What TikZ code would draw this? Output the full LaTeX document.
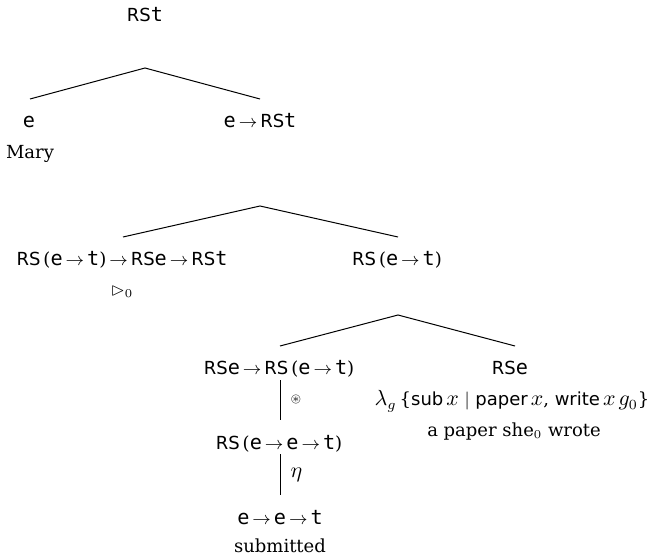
\documentclass[tikz,border=0pt]{standalone}
\usepackage{fontspec}
\usepackage{amssymb}
\setmainfont{DejaVu Serif}
\newfontfamily\tyf[Scale=1.12]{DejaVu Sans Mono}
\newfontfamily\sff{DejaVu Sans}
\newcommand\ty[1]{{\tyf #1}}
\newcommand\sfw[1]{{\sff #1}}
\newcommand\rs{{\sff RS}}
\newcommand\ar{\,$\to$\,}
\newcommand\mv[1]{{\fontsize{10.5}{12}\selectfont$#1$}}
\begin{document}
\begin{tikzpicture}[x=0.5pt,y=-0.5pt,
  lbl/.style={inner sep=0pt, anchor=base, font=\fontsize{9}{11}\selectfont},
  oplbl/.style={inner sep=0pt, font=\fontsize{9}{11}\selectfont},
  edge/.style={line width=0.5pt}]
\useasboundingbox (0,0) rectangle (649,556);
% tree 1
\node[lbl] (root) at (145,22) {\rs\ty{t}};
\coordinate (a1) at (145,68);
\coordinate (l1) at (30,99);
\coordinate (r1) at (260,99);
\draw[edge] (l1) -- (a1) -- (r1);
\node[lbl] (e) at (29,128) {\ty{e}};
\node[lbl] (mary) at (30,159) {Mary};
\node[lbl] (ers) at (260,128) {\ty{e}\ar\rs\ty{t}};
% tree 2
\coordinate (a2) at (260,206);
\coordinate (l2) at (123,237);
\coordinate (r2) at (398,237);
\draw[edge] (l2) -- (a2) -- (r2);
\node[lbl] (big) at (122,265) {\rs\,(\ty{e}\ar\ty{t})\ar\rs\ty{e}\ar\rs\ty{t}};
\node[lbl] (tri) at (122,296) {$\vartriangleright_0$};
\node[lbl] (ret) at (397,265) {\rs\,(\ty{e}\ar\ty{t})};
% tree 3
\coordinate (a3) at (398,315);
\coordinate (l3) at (280,346);
\coordinate (r3) at (515,346);
\draw[edge] (l3) -- (a3) -- (r3);
\node[lbl] (n1) at (279,374) {\rs\ty{e}\ar\rs\,(\ty{e}\ar\ty{t})};
\node[lbl] (rse) at (510,374) {\rs\ty{e}};
\node[lbl] (lam) at (512,406) {\mv{\lambda_g}\,\{\sfw{sub}\,\mv{x} $\mid$ \sfw{paper}\,\mv{x}, \sfw{write}\,\mv{x}\,\mv{g_0}\}};
\node[lbl] (ap) at (514,437) {a paper she$_0$ wrote};
\coordinate (v1t) at (280,380);
\coordinate (v1b) at (280,420);
\draw[edge] (v1t) -- node[oplbl, right=5pt] (op1) {$\scriptstyle\circledast$} (v1b);
\node[lbl] (n2) at (279,449) {\rs\,(\ty{e}\ar\ty{e}\ar\ty{t})};
\coordinate (v2t) at (280,454);
\coordinate (v2b) at (280,495);
\draw[edge] (v2t) -- node[oplbl, right=5pt] (op2) {\mv{\eta}} (v2b);
\node[lbl] (n3) at (280,524) {\ty{e}\ar\ty{e}\ar\ty{t}};
\node[lbl] (sub) at (280,552) {submitted};
\end{tikzpicture}
\end{document}
